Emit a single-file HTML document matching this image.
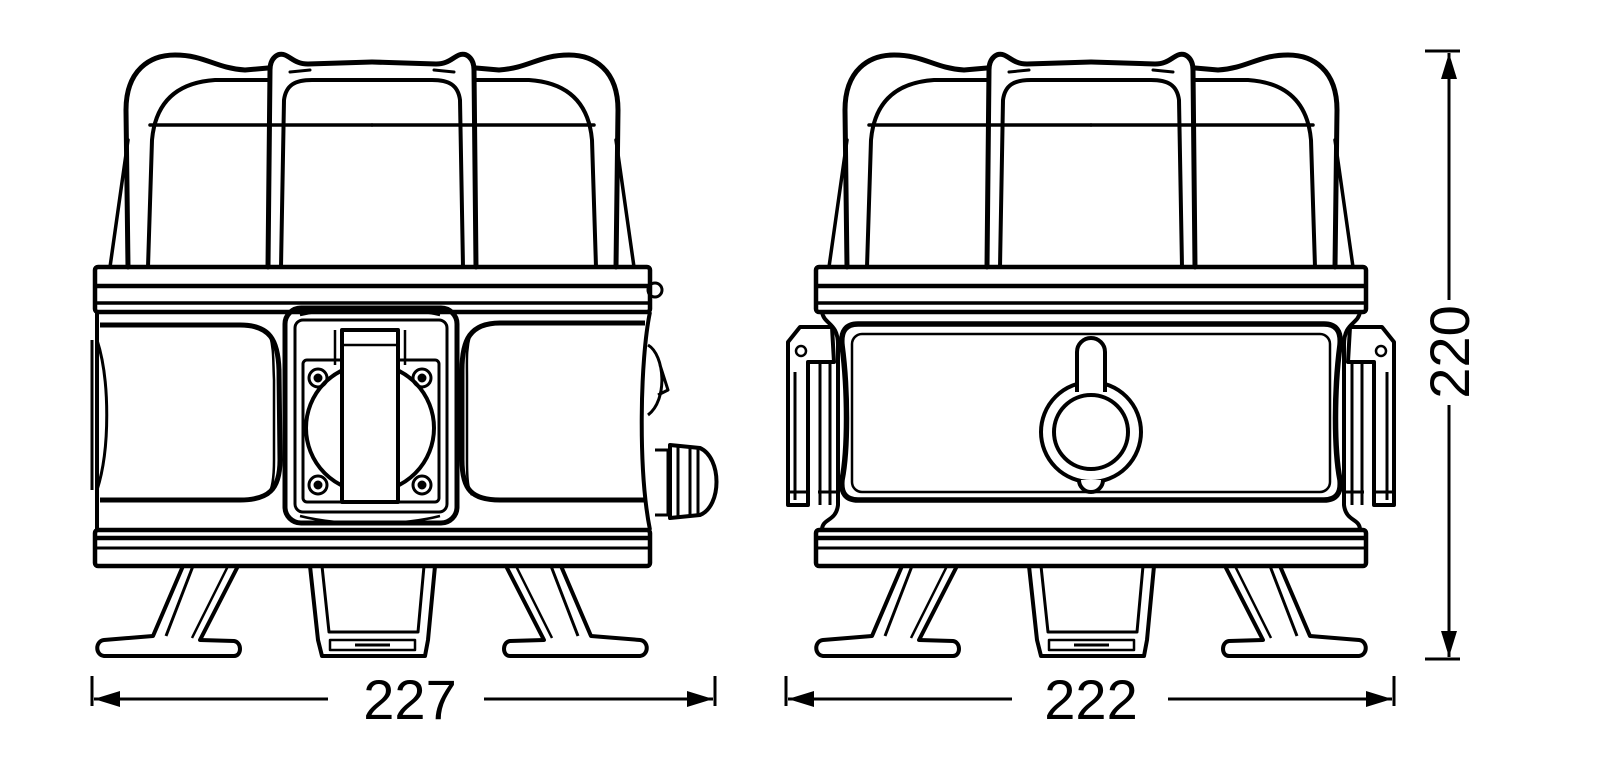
<!DOCTYPE html>
<html><head><meta charset="utf-8"><style>
html,body{margin:0;padding:0;background:#fff;}
svg{display:block;}
text{font-family:"Liberation Sans",sans-serif;}
</style></head><body>
<svg width="1600" height="770" viewBox="0 0 1600 770" xmlns="http://www.w3.org/2000/svg">
<defs>
<g id="halfcage" fill="none" stroke="#000" stroke-linecap="round" stroke-linejoin="round">
  <path d="M110,267 L128,140" stroke-width="3.5"/>
  <path d="M128,267 L126,110 C126,70 150,55 175,55 C205,55 215,68 245,70 L268,68" stroke-width="5"/>
  <path d="M148,267 L152,140 C156,95 185,82 215,80 L268,80" stroke-width="4"/>
  <path d="M150,125 L372,125" stroke-width="3.5"/>
  <path d="M268,267 L270,70 C270,58 278,52 285,55 C292,58 296,64 308,64 L372,62" stroke-width="5"/>
  <path d="M281,267 L284,100 C286,85 295,80 312,80 L372,80" stroke-width="4"/>
  <path d="M290,72 L310,70" stroke-width="3"/>
</g>
<g id="foot" fill="none" stroke="#000" stroke-width="4" stroke-linejoin="round">
  <path d="M183,566 L153,636 L104,640 C95,641 95,655 104,656 L234,656 C242,656 242,642 234,641 L200,640 L238,566"/>
  <path d="M193,566 L166,636" stroke-width="3"/>
  <path d="M228,566 L192,638" stroke-width="2.5"/>
</g>
<g id="cfoot" fill="none" stroke="#000" stroke-width="4" stroke-linejoin="round">
  <path d="M310,566 L318,640 L322,656 L425,656 L428,640 L435,566"/>
  <path d="M322,566 L329,632 L418,632 L424,566" stroke-width="3"/>
  <path d="M330,640 L415,640 L415,650 L330,650 Z" stroke-width="2.5"/>
  <path d="M355,645 L390,645" stroke-width="3"/>
</g>
<g id="bands" fill="none" stroke="#000">
  <rect x="95" y="267" width="555" height="45" rx="3" stroke-width="4.5"/>
  <path d="M97,286 L648,286" stroke-width="4.5"/>
  <path d="M97,303 L648,303" stroke-width="3.5"/>
  <rect x="95" y="530" width="555" height="36" rx="3" stroke-width="4.5"/>
  <path d="M97,538 L648,538" stroke-width="4.5"/>
  <path d="M97,548 L648,548" stroke-width="3"/>
</g>
</defs>

<use href="#halfcage"/>
<use href="#halfcage" transform="translate(744,0) scale(-1,1)"/>
<use href="#bands"/>
<g fill="none" stroke="#000" stroke-linejoin="round">
  <path d="M97,312 L97,530" stroke-width="4"/>
  <path d="M92,340 L92,490" stroke-width="3"/>
  <path d="M97,340 C110,380 110,450 97,490" stroke-width="3"/>
  <path d="M100,325 L240,325 C270,325 278,340 279,370 L280,460 C280,490 268,500 240,500 L100,500" stroke-width="5"/>
  <path d="M270,335 C274,350 273,360 274,380 L274,460 C274,480 272,490 268,495" stroke-width="2.5"/>
  <path d="M650,312 C640,360 638,470 650,530" stroke-width="4"/>
  <path d="M645,323 L500,323 C470,323 462,340 462,370 L462,460 C462,490 472,500 500,500 L645,500" stroke-width="5"/>
  <path d="M470,335 C466,350 467,360 467,380 L467,460 C467,480 468,490 472,495" stroke-width="2.5"/>
  <circle cx="655" cy="290" r="7" stroke-width="3"/>
  <path d="M648,345 C665,355 668,400 648,415 M660,365 L668,390 L658,395" stroke-width="3"/>
  <path d="M655,450 L668,450 L668,515 L655,515" stroke-width="3"/>
  <path d="M670,445 L700,448 C722,458 722,506 700,515 L670,518 Z" stroke-width="4"/>
  <path d="M678,447 L678,517 M690,447 L690,517 M698,449 L698,514" stroke-width="3"/>
  <rect x="285" y="308" width="172" height="215" rx="16" stroke-width="5"/>
  <rect x="295" y="320" width="152" height="192" rx="8" stroke-width="3"/>
  <path d="M300,315 C340,306 400,306 440,315" stroke-width="2.5"/>
  <path d="M300,516 C340,526 400,526 440,516" stroke-width="2.5"/>
  <rect x="303" y="360" width="136" height="142" rx="4" stroke-width="3"/>
  <circle cx="370" cy="428" r="64" stroke-width="4"/>
  <rect x="342" y="330" width="56" height="172" fill="#fff" stroke-width="4"/>
  <path d="M335,330 L335,365 M405,330 L405,365 M342,345 L398,345" stroke-width="2.5"/>
  <circle cx="318" cy="378" r="9" stroke-width="3"/><circle cx="318" cy="378" r="4" fill="#000"/>
  <circle cx="422" cy="378" r="9" stroke-width="3"/><circle cx="422" cy="378" r="4" fill="#000"/>
  <circle cx="318" cy="485" r="9" stroke-width="3"/><circle cx="318" cy="485" r="4" fill="#000"/>
  <circle cx="422" cy="485" r="9" stroke-width="3"/><circle cx="422" cy="485" r="4" fill="#000"/>
</g>
<use href="#foot"/>
<use href="#foot" transform="translate(744,0) scale(-1,1)"/>
<use href="#cfoot"/>

<g transform="translate(719,0)">
  <use href="#halfcage"/>
  <use href="#halfcage" transform="translate(744,0) scale(-1,1)"/>
  <use href="#foot"/>
  <use href="#foot" transform="translate(744,0) scale(-1,1)"/>
  <use href="#cfoot"/>
</g>
<g fill="none" stroke="#000" stroke-linejoin="round">
  <rect x="816" y="267" width="550" height="45" rx="3" stroke-width="4.5"/>
  <path d="M818,286 L1364,286" stroke-width="4.5"/>
  <path d="M818,303 L1364,303" stroke-width="3.5"/>
  <rect x="816" y="530" width="550" height="36" rx="3" stroke-width="4.5"/>
  <path d="M818,538 L1364,538" stroke-width="4.5"/>
  <path d="M818,548 L1364,548" stroke-width="3"/>
  <path d="M822,312 C824,325 838,322 838,345 L838,505 C836,522 822,518 822,530" stroke-width="4"/>
  <path d="M1360,312 C1358,325 1344,322 1344,345 L1344,505 C1346,522 1360,518 1360,530" stroke-width="4"/>
  <path d="M858,324 L1324,324 Q1342,324 1340,345 C1334,390 1334,450 1340,480 Q1342,500 1324,500 L858,500 Q840,500 842,480 C848,450 848,390 842,345 Q840,324 858,324 Z" stroke-width="5.5"/>
  <rect x="852" y="334" width="478" height="158" rx="10" stroke-width="2.5"/>
  <circle cx="1091" cy="432" r="50" fill="#fff" stroke-width="4"/>
  <path d="M1077,392 L1077,352 A14,14 0 0 1 1105,352 L1105,392" fill="#fff" stroke-width="4"/>
  <path d="M1079,480 A12,12 0 0 0 1103,480" fill="#fff" stroke-width="4"/>
  <circle cx="1091" cy="432" r="37" stroke-width="4"/>
  <path d="M788,505 L788,342 L800,327 L832,327 L834,362 L808,362 L808,505 Z" stroke-width="4"/>
  <circle cx="801" cy="351" r="5" stroke-width="2.5"/>
  <path d="M795,372 L795,500 M820,362 L820,505 M830,362 L830,505 M788,492 L808,492 M818,492 L836,492" stroke-width="3"/>
  <path d="M1394,505 L1394,342 L1382,327 L1350,327 L1348,362 L1374,362 L1374,505 Z" stroke-width="4"/>
  <circle cx="1381" cy="351" r="5" stroke-width="2.5"/>
  <path d="M1387,372 L1387,500 M1362,362 L1362,505 M1352,362 L1352,505 M1394,492 L1374,492 M1364,492 L1346,492" stroke-width="3"/>
</g>

<g stroke="#000" stroke-width="3" fill="none">
  <path d="M92,676 L92,706 M715,676 L715,706"/>
  <path d="M94,699 L328,699 M484,699 L713,699"/>
  <path d="M786,676 L786,706 M1394,676 L1394,706"/>
  <path d="M788,699 L1012,699 M1168,699 L1392,699"/>
  <path d="M1425,51 L1460,51 M1425,659 L1460,659"/>
  <path d="M1449,53 L1449,300 M1449,405 L1449,657"/>
</g>
<g fill="#000">
  <path d="M94,699 L120,691 L120,707 Z"/>
  <path d="M713,699 L687,691 L687,707 Z"/>
  <path d="M788,699 L814,691 L814,707 Z"/>
  <path d="M1392,699 L1366,691 L1366,707 Z"/>
  <path d="M1449,53 L1441,79 L1457,79 Z"/>
  <path d="M1449,657 L1441,631 L1457,631 Z"/>
</g>
<g font-size="56" fill="#000" text-anchor="middle">
  <text x="410" y="719">227</text>
  <text x="1091" y="719">222</text>
  <text x="0" y="0" transform="translate(1469,352) rotate(-90)">220</text>
</g>
</svg>
</body></html>
